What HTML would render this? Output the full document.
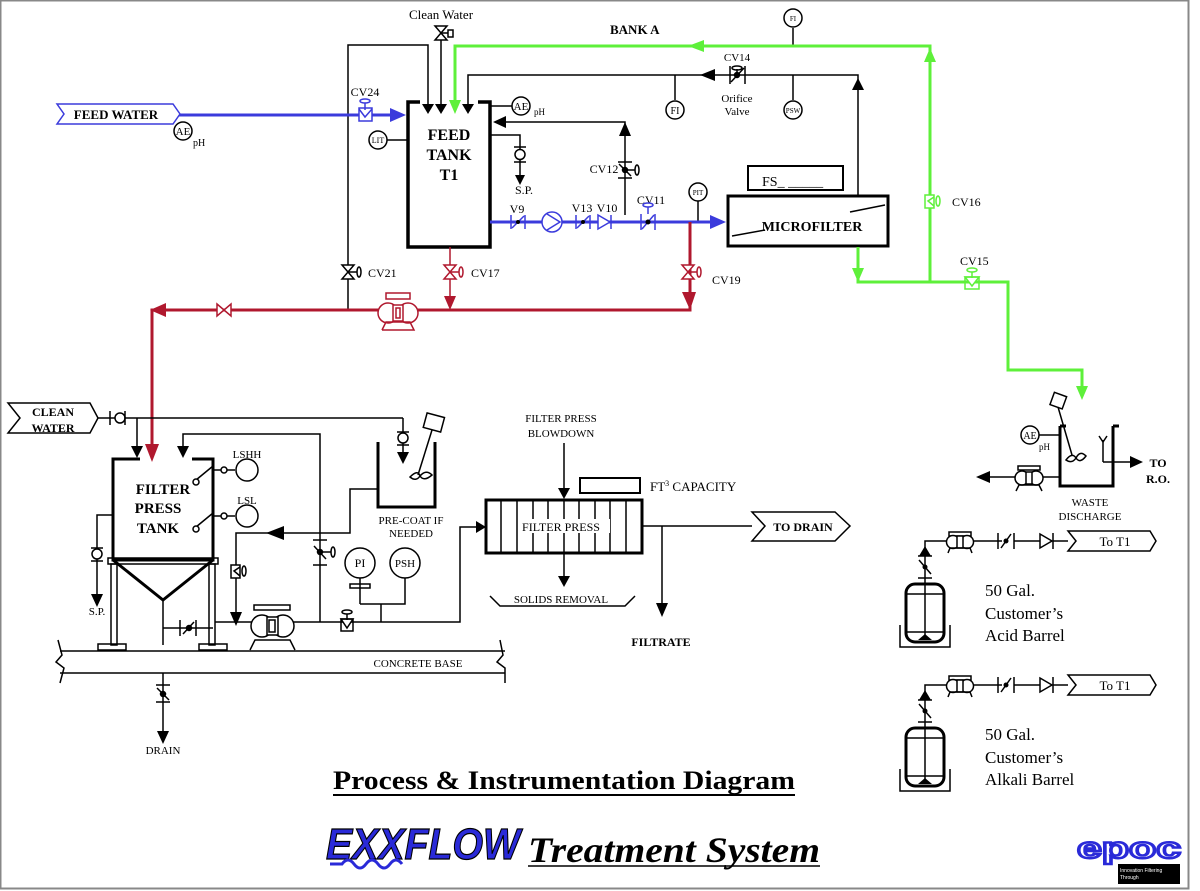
<!DOCTYPE html>
<html><head><meta charset="utf-8"><style>
html,body{margin:0;padding:0;background:#fff;}
svg{display:block;}
text{font-family:"Liberation Serif",serif;fill:#000;}
</style></head><body>
<svg width="1200" height="891" viewBox="0 0 1200 891" xmlns="http://www.w3.org/2000/svg">
<rect x="0.5" y="0.5" width="1188" height="888" fill="#fff" stroke="#888" stroke-width="2"/>

<!-- ===== TOP SECTION ===== -->
<text x="441" y="19" font-size="13" text-anchor="middle">Clean Water</text>
<g stroke="#000" stroke-width="1.5" fill="none">
 <line x1="441" y1="28" x2="441" y2="104"/>
 <polygon points="435,26 447,26 435,40 447,40" fill="#fff"/>
 <rect x="448" y="30" width="5" height="7"/><line x1="441" y1="33" x2="448" y2="33"/>
 <polyline points="348,310 348,45 428,45 428,104"/>
 <polyline points="468,104 468,75 858,75 858,196"/>
 <line x1="675" y1="75" x2="675" y2="100"/>
 <line x1="793" y1="75" x2="793" y2="100"/>
 <line x1="793" y1="28" x2="793" y2="46"/>
 <circle cx="675" cy="110" r="9" fill="#fff"/>
 <circle cx="793" cy="110" r="9" fill="#fff"/>
 <circle cx="793" cy="18" r="9" fill="#fff"/>
 <!-- CV14 -->
 <line x1="730" y1="66" x2="730" y2="84"/><line x1="745" y1="66" x2="745" y2="84"/>
 <line x1="731" y1="82" x2="744" y2="68"/><circle cx="737" cy="75" r="2.5" fill="#000"/>
 <line x1="737" y1="69" x2="737" y2="73"/><ellipse cx="737" cy="68" rx="5" ry="2"/>
 <!-- return line to tank -->
 <polyline points="495,122 625,122 625,215"/>
 <line x1="618" y1="162" x2="632" y2="162"/><line x1="618" y1="178" x2="632" y2="178"/>
 <line x1="619" y1="164" x2="631" y2="176"/><circle cx="625" cy="170" r="2.5" fill="#000"/>
 <ellipse cx="637" cy="170" rx="2" ry="5"/><line x1="627" y1="170" x2="635" y2="170"/>
 <!-- S.P. -->
 <polyline points="490,135 520,135 520,178"/>
 <line x1="514" y1="147" x2="526" y2="147"/><line x1="514" y1="162" x2="526" y2="162"/>
 <circle cx="520" cy="154.5" r="5" fill="#fff"/>
 <!-- AE / LIT -->
 <line x1="490" y1="106" x2="512" y2="106"/><circle cx="521" cy="106" r="9" fill="#fff"/>
 <line x1="387" y1="140" x2="408" y2="140"/><circle cx="378" cy="140" r="9" fill="#fff"/>
 <!-- PIT -->
 <line x1="698" y1="201" x2="698" y2="222"/><circle cx="698" cy="192" r="9" fill="#fff"/>
 <!-- CV21 -->
 <polygon points="342,265 354,265 342,279 354,279" fill="#fff"/>
 <ellipse cx="359" cy="272" rx="2" ry="5"/><line x1="348" y1="272" x2="357" y2="272"/>
 <!-- microfilter -->
 <rect x="728" y="196" width="160" height="50" stroke-width="3"/>
 <line x1="732" y1="236" x2="765" y2="230"/><line x1="850" y1="212" x2="885" y2="205"/>
 <rect x="748" y="166" width="95" height="24" stroke-width="2"/>
 <!-- feed tank -->
 <polyline points="420,102 408,102 408,247 490,247 490,102 478,102" stroke-width="3.5"/>
</g>
<g fill="#000">
 <polygon points="422,104 434,104 428,114"/><polygon points="435,104 447,104 441,114"/>
 <polygon points="462,104 474,104 468,114"/>
 <polygon points="852,90 864,90 858,78"/>
 <polygon points="700,75 715,69 715,81"/>
 <polygon points="493,122 506,116 506,128"/>
 <polygon points="619,136 631,136 625,122"/>
 <polygon points="515,175 525,175 520,185"/>
</g>
<text x="610" y="34" font-size="13" font-weight="bold">BANK A</text>
<text x="793" y="21" font-size="7" text-anchor="middle">FI</text>
<text x="675" y="114" font-size="10" text-anchor="middle">FI</text>
<text x="793" y="113" font-size="7" text-anchor="middle">PSW</text>
<text x="737" y="61" font-size="11" text-anchor="middle">CV14</text>
<text x="737" y="102" font-size="11" text-anchor="middle">Orifice</text>
<text x="737" y="115" font-size="11" text-anchor="middle">Valve</text>
<text x="521" y="110" font-size="11" text-anchor="middle">AE</text>
<text x="534" y="115" font-size="9">pH</text>
<text x="378" y="143" font-size="8" text-anchor="middle">LIT</text>
<text x="698" y="195" font-size="7" text-anchor="middle">PIT</text>
<text x="524" y="194" font-size="12" text-anchor="middle">S.P.</text>
<text x="604" y="173" font-size="12" text-anchor="middle">CV12</text>
<text x="449" y="140" font-size="16" font-weight="bold" text-anchor="middle">FEED</text>
<text x="449" y="160" font-size="16" font-weight="bold" text-anchor="middle">TANK</text>
<text x="449" y="180" font-size="16" font-weight="bold" text-anchor="middle">T1</text>
<text x="812" y="231" font-size="14" font-weight="bold" text-anchor="middle">MICROFILTER</text>
<text x="762" y="186" font-size="14">FS_ _____</text>
<text x="368" y="277" font-size="12">CV21</text>
<text x="471" y="277" font-size="12">CV17</text>
<text x="712" y="284" font-size="12">CV19</text>
<text x="365" y="96" font-size="12" text-anchor="middle">CV24</text>
<text x="517" y="213" font-size="12" text-anchor="middle">V9</text>
<text x="582" y="212" font-size="12" text-anchor="middle">V13</text>
<text x="607" y="212" font-size="12" text-anchor="middle">V10</text>
<text x="651" y="204" font-size="12" text-anchor="middle">CV11</text>

<!-- green lines -->
<g stroke="#5ef03a" stroke-width="3" fill="none">
 <polyline points="455,104 455,46 930,46 930,282"/>
 <polyline points="858,247 858,282 1008,282 1008,370 1082,370 1082,392"/>
</g>
<g fill="#5ef03a">
 <polygon points="449,100 461,100 455,114"/>
 <polygon points="688,46 704,40 704,52"/>
 <polygon points="924,62 936,62 930,48"/>
 <polygon points="852,268 864,268 858,282"/>
 <polygon points="1076,386 1088,386 1082,400"/>
</g>
<g stroke="#5ef03a" stroke-width="1.5" fill="#fff">
 <rect x="925" y="195" width="9" height="13"/><polyline points="934,197 928,201 934,206" fill="none"/>
 <ellipse cx="938" cy="201" rx="2" ry="5"/>
 <polygon points="965,277 979,277 972,286" /><rect x="965" y="277" width="14" height="12" fill="none"/>
 <ellipse cx="972" cy="270" rx="5" ry="2"/><line x1="972" y1="272" x2="972" y2="278"/>
</g>
<text x="952" y="206" font-size="12">CV16</text>
<text x="960" y="265" font-size="12">CV15</text>

<!-- blue -->
<g stroke="#3b3bdc" stroke-width="3" fill="none">
 <line x1="175" y1="115" x2="395" y2="115"/>
 <line x1="490" y1="222" x2="712" y2="222"/>
</g>
<g fill="#3b3bdc">
 <polygon points="390,108 390,122 406,115"/>
 <polygon points="710,215 710,229 726,222"/>
</g>
<g stroke="#3b3bdc" stroke-width="1.5" fill="#fff">
 <polygon points="57,104 173,104 180,114 173,124 57,124 64,114"/>
 <rect x="359" y="108" width="13" height="13"/><polyline points="359,109 365,117 372,109" fill="none"/>
 <line x1="365" y1="100" x2="365" y2="110"/><ellipse cx="365" cy="101" rx="5" ry="2"/>
 <line x1="511" y1="215" x2="511" y2="229"/><line x1="525" y1="215" x2="525" y2="229"/><line x1="512" y1="228" x2="524" y2="216"/>
 <circle cx="552" cy="222" r="10"/><polyline points="547,214 560,222 547,230" fill="none"/>
 <line x1="576" y1="215" x2="576" y2="229"/><line x1="590" y1="215" x2="590" y2="229"/><line x1="577" y1="228" x2="589" y2="216"/>
 <polygon points="598,215 610,222 598,229" fill="#fff"/><line x1="611" y1="215" x2="611" y2="229"/>
 <line x1="641" y1="214" x2="641" y2="230"/><line x1="655" y1="214" x2="655" y2="230"/><line x1="642" y1="229" x2="654" y2="215"/>
 <line x1="648" y1="205" x2="648" y2="214"/><ellipse cx="648" cy="205" rx="5" ry="2"/>
</g>
<g fill="#000"><circle cx="518" cy="222" r="2"/><circle cx="583" cy="222" r="2"/><circle cx="648" cy="222" r="2.5"/></g>
<text x="116" y="119" font-size="13" font-weight="bold" text-anchor="middle">FEED WATER</text>
<g stroke="#000" stroke-width="1.5" fill="#fff"><circle cx="183" cy="131" r="9"/></g>
<text x="183" y="135" font-size="11" text-anchor="middle">AE</text>
<text x="193" y="146" font-size="10">pH</text>

<!-- red -->
<g stroke="#b0182e" stroke-width="3" fill="none">
 <polyline points="690,222 690,310 152,310 152,450"/>
</g>
<g stroke="#b0182e" stroke-width="1.5" fill="none">
 <line x1="450" y1="247" x2="450" y2="300"/>
 <polygon points="444,265 456,265 444,279 456,279" fill="#fff"/>
 <ellipse cx="461" cy="272" rx="2" ry="5"/><line x1="450" y1="272" x2="459" y2="272"/>
 <polygon points="682,265 694,265 682,279 694,279" fill="#fff"/>
 <ellipse cx="699" cy="272" rx="2" ry="5"/><line x1="690" y1="272" x2="697" y2="272"/>
 <polygon points="217,304 231,316 231,304 217,316" fill="#fff"/>
 <rect x="386" y="293" width="24" height="6" fill="#fff"/>
 <circle cx="388" cy="313" r="10" fill="#fff"/><circle cx="408" cy="313" r="10" fill="#fff"/>
 <rect x="393" y="305" width="10" height="16" fill="#fff"/><rect x="396" y="308" width="4" height="10"/>
 <polyline points="382,330 386,322 410,322 414,330 382,330"/>
</g>
<g fill="#b0182e">
 <polygon points="444,296 456,296 450,310"/>
 <polygon points="682,292 696,292 690,310"/>
 <polygon points="150,310 166,303 166,317"/>
 <polygon points="145,444 159,444 152,462"/>
</g>

<!-- ===== LOWER LEFT ===== -->
<g stroke="#000" stroke-width="1.5" fill="none">
 <polygon points="8,403 90,403 98,418 90,433 8,433 20,418" fill="#fff"/>
 <line x1="98" y1="418" x2="403" y2="418"/>
 <line x1="110" y1="411" x2="110" y2="425"/><circle cx="120" cy="418" r="5" fill="#fff"/><line x1="125" y1="411" x2="125" y2="425"/>
 <line x1="137" y1="418" x2="137" y2="448"/>
 <line x1="403" y1="418" x2="403" y2="455"/>
 <line x1="397" y1="432" x2="409" y2="432"/><line x1="397" y1="445" x2="409" y2="445"/><circle cx="403" cy="438" r="5" fill="#fff"/>
 <polyline points="183,448 183,434 320,434 320,622"/>
 <polyline points="140,459 113,459 113,560 213,560 213,459 192,459" stroke-width="3"/>
 <polyline points="113,560 163,600 213,560" stroke-width="3"/>
 <rect x="108" y="558" width="110" height="6"/>
 <rect x="111" y="564" width="6" height="81"/><rect x="209" y="564" width="6" height="81"/>
 <rect x="98" y="644" width="28" height="6"/><rect x="199" y="644" width="28" height="6"/>
 <line x1="163" y1="600" x2="163" y2="645"/>
 <polyline points="163,628 213,628"/>
 <line x1="180" y1="620" x2="180" y2="636"/><line x1="196" y1="620" x2="196" y2="636"/><line x1="183" y1="634" x2="194" y2="622"/><circle cx="189" cy="628" r="2.5" fill="#000"/>
 <line x1="196" y1="480" x2="213" y2="466"/><circle cx="196" cy="482" r="3" fill="#fff"/><line x1="213" y1="470" x2="235" y2="470"/><circle cx="224" cy="470" r="3" fill="#fff"/><circle cx="247" cy="470" r="11" fill="#fff"/>
 <line x1="196" y1="527" x2="213" y2="513"/><circle cx="196" cy="529" r="3" fill="#fff"/><line x1="213" y1="516" x2="235" y2="516"/><circle cx="224" cy="516" r="3" fill="#fff"/><circle cx="247" cy="516" r="11" fill="#fff"/>
 <polyline points="113,515 97,515 97,597"/>
 <line x1="91" y1="548" x2="103" y2="548"/><line x1="91" y1="561" x2="103" y2="561"/><circle cx="97" cy="554" r="5" fill="#fff"/>
 <polyline points="236,616 236,533 350,533 350,489 378,489"/>
 <rect x="231" y="565" width="9" height="13" fill="#fff"/><polyline points="240,567 234,571 240,576"/><ellipse cx="244" cy="571" rx="2" ry="5"/>
 <polyline points="378,442 378,507 435,507 435,442" stroke-width="3"/>
 <rect x="425" y="415" width="18" height="15" transform="rotate(15 434 422)" fill="#fff"/>
 <line x1="432" y1="430" x2="418" y2="475"/><path d="M410,477 q8,-8 10,-1 q4,6 12,-1 q-6,-6 -12,1 q-4,6 -10,1z"/>
 <line x1="313" y1="540" x2="327" y2="540"/><line x1="313" y1="565" x2="327" y2="565"/><line x1="314" y1="546" x2="326" y2="559"/><circle cx="320" cy="552" r="2.5" fill="#000"/><ellipse cx="333" cy="552" rx="2" ry="5"/><line x1="322" y1="552" x2="331" y2="552"/>
 <polyline points="215,622 252,622"/><polyline points="292,622 460,622 460,527 478,527"/>
 <rect x="254" y="605" width="36" height="5"/><circle cx="262" cy="626" r="11" fill="#fff"/><circle cx="283" cy="626" r="11" fill="#fff"/><rect x="267" y="617" width="11" height="18" fill="#fff"/><rect x="269" y="620" width="6" height="12"/>
 <polyline points="250,650 255,640 290,640 295,650"/>
 <polygon points="341,619 353,619 347,628" fill="#fff"/><rect x="341" y="619" width="12" height="12"/><ellipse cx="347" cy="612" rx="5" ry="2"/><line x1="347" y1="614" x2="347" y2="620"/>
 <circle cx="360" cy="563" r="15" fill="#fff"/><circle cx="405" cy="563" r="15" fill="#fff"/>
 <line x1="360" y1="578" x2="360" y2="604"/><rect x="350" y="584" width="20" height="4"/>
 <polyline points="360,604 405,604 405,578"/><line x1="381" y1="604" x2="381" y2="622"/>
 <line x1="60" y1="651" x2="505" y2="651"/><line x1="60" y1="673" x2="505" y2="673"/>
 <polyline points="58,640 62,655 56,662 64,668 60,683"/>
 <polyline points="500,640 503,655 497,662 505,668 505,683"/>
 <line x1="163" y1="673" x2="163" y2="735"/>
 <line x1="156" y1="685" x2="170" y2="685"/><line x1="156" y1="702" x2="170" y2="702"/><line x1="157" y1="688" x2="169" y2="700"/><circle cx="163" cy="694" r="2.5" fill="#000"/>
</g>
<g fill="#000">
 <polygon points="131,446 143,446 137,458"/>
 <polygon points="177,446 189,446 183,458"/>
 <polygon points="397,452 409,452 403,464"/>
 <polygon points="91,594 103,594 97,607"/>
 <polygon points="230,612 242,612 236,626"/>
 <polygon points="266,533 284,526 284,540"/>
 <polygon points="476,521 476,533 486,527"/>
 <polygon points="157,731 169,731 163,744"/>
</g>
<text x="53" y="416" font-size="12" font-weight="bold" text-anchor="middle">CLEAN</text>
<text x="53" y="432" font-size="12" font-weight="bold" text-anchor="middle">WATER</text>
<text x="163" y="494" font-size="15" font-weight="bold" text-anchor="middle">FILTER</text>
<text x="158" y="513" font-size="15" font-weight="bold" text-anchor="middle">PRESS</text>
<text x="158" y="533" font-size="15" font-weight="bold" text-anchor="middle">TANK</text>
<text x="247" y="458" font-size="11" text-anchor="middle">LSHH</text>
<text x="247" y="504" font-size="11" text-anchor="middle">LSL</text>
<text x="97" y="615" font-size="11" text-anchor="middle">S.P.</text>
<text x="411" y="524" font-size="11" text-anchor="middle">PRE-COAT IF</text>
<text x="411" y="537" font-size="11" text-anchor="middle">NEEDED</text>
<text x="360" y="567" font-size="12" text-anchor="middle">PI</text>
<text x="405" y="567" font-size="11" text-anchor="middle">PSH</text>
<text x="418" y="667" font-size="11" text-anchor="middle">CONCRETE BASE</text>
<text x="163" y="754" font-size="11" text-anchor="middle">DRAIN</text>

<!-- ===== FILTER PRESS ===== -->
<g stroke="#000" stroke-width="1.5" fill="none">
 <rect x="486" y="500" width="156" height="53" stroke-width="3"/>
 <line x1="501" y1="500" x2="501" y2="553"/><line x1="517" y1="500" x2="517" y2="553"/><line x1="533" y1="500" x2="533" y2="553"/><line x1="548" y1="500" x2="548" y2="553"/><line x1="564" y1="500" x2="564" y2="553"/><line x1="579" y1="500" x2="579" y2="553"/><line x1="595" y1="500" x2="595" y2="553"/><line x1="610" y1="500" x2="610" y2="553"/><line x1="626" y1="500" x2="626" y2="553"/>
 <rect x="580" y="478" width="60" height="15" stroke-width="2"/>
 <line x1="564" y1="443" x2="564" y2="490"/>
 <line x1="564" y1="553" x2="564" y2="578"/>
 <polyline points="490,596 500,606 625,606 635,596"/>
 <line x1="642" y1="526" x2="752" y2="526"/>
 <line x1="662" y1="526" x2="662" y2="605"/>
 <polygon points="752,512 835,512 850,526 835,541 752,541 765,526" fill="#fff"/>
</g>
<g fill="#000">
 <polygon points="558,488 570,488 564,499"/>
 <polygon points="558,576 570,576 564,587"/>
 <polygon points="656,603 668,603 662,617"/>
</g>
<rect x="518" y="519" width="92" height="14" fill="#fff"/>
<text x="561" y="531" font-size="12" text-anchor="middle">FILTER PRESS</text>
<text x="561" y="422" font-size="11" text-anchor="middle">FILTER PRESS</text>
<text x="561" y="437" font-size="11" text-anchor="middle">BLOWDOWN</text>
<text x="650" y="491" font-size="13">FT<tspan font-size="8" dy="-5">3</tspan><tspan dy="5"> CAPACITY</tspan></text>
<text x="561" y="603" font-size="11" text-anchor="middle">SOLIDS REMOVAL</text>
<text x="661" y="646" font-size="12" font-weight="bold" text-anchor="middle">FILTRATE</text>
<text x="803" y="531" font-size="12" font-weight="bold" text-anchor="middle">TO DRAIN</text>

<!-- ===== RIGHT ===== -->
<g stroke="#000" stroke-width="1.5" fill="none">
 <polyline points="1060,426 1060,486 1113,486 1113,426" stroke-width="3"/>
 <polyline points="1060,426 1066,426" stroke-width="3"/><polyline points="1113,426 1119,426" stroke-width="3"/>
 <rect x="1052" y="394" width="13" height="13" transform="rotate(20 1058 400)" fill="#fff"/>
 <line x1="1058" y1="407" x2="1072" y2="455"/><path d="M1066,460 q6,-8 10,-2 q4,6 10,-2 q-6,-6 -10,2 q-4,6 -10,2z"/>
 <line x1="1039" y1="435" x2="1060" y2="435"/><circle cx="1030" cy="435" r="9" fill="#fff"/>
 <line x1="1060" y1="477" x2="1040" y2="477"/><line x1="1016" y1="477" x2="982" y2="477"/>
 <rect x="1018" y="466" width="22" height="4"/><circle cx="1022" cy="478" r="7" fill="#fff"/><circle cx="1036" cy="478" r="7" fill="#fff"/><rect x="1026" y="472" width="6" height="12" fill="#fff"/>
 <polyline points="1016,491 1019,485 1039,485 1042,491"/>
 <polyline points="1103,462 1103,440"/><polyline points="1099,436 1103,442 1107,436"/>
 <line x1="1103" y1="462" x2="1132" y2="462"/>
</g>
<g fill="#000">
 <polygon points="976,477 990,471 990,483"/>
 <polygon points="1130,456 1130,468 1143,462"/>
</g>
<text x="1030" y="439" font-size="10" text-anchor="middle">AE</text>
<text x="1039" y="450" font-size="9">pH</text>
<text x="1158" y="467" font-size="12" font-weight="bold" text-anchor="middle">TO</text>
<text x="1158" y="483" font-size="12" font-weight="bold" text-anchor="middle">R.O.</text>
<text x="1090" y="506" font-size="11" text-anchor="middle">WASTE</text>
<text x="1090" y="520" font-size="11" text-anchor="middle">DISCHARGE</text>

<!-- acid / alkali -->
<g stroke="#000" stroke-width="1.5" fill="none">
 <polyline points="925,596 925,541 950,541"/>
 <line x1="966" y1="541" x2="1002" y2="541"/><line x1="1014" y1="541" x2="1040" y2="541"/><line x1="1053" y1="541" x2="1068" y2="541"/>
 <rect x="949" y="532" width="22" height="4"/><circle cx="953" cy="542" r="6.5" fill="#fff"/><circle cx="967" cy="542" r="6.5" fill="#fff"/><rect x="957" y="536" width="6" height="12" fill="#fff"/>
 <polyline points="948,553 950,548 970,548 972,553"/>
 <line x1="998" y1="533" x2="998" y2="549"/><line x1="1014" y1="533" x2="1014" y2="549"/><line x1="1001" y1="548" x2="1011" y2="534"/>
 <polygon points="1040,534 1052,541 1040,548" fill="#fff"/><line x1="1053" y1="533" x2="1053" y2="549"/>
 <polygon points="1068,531 1150,531 1156,541 1150,551 1068,551 1076,541" fill="#fff"/>
 <line x1="918" y1="556" x2="932" y2="556"/><line x1="918" y1="578" x2="932" y2="578"/><line x1="919" y1="560" x2="931" y2="574"/>
 <rect x="906" y="584" width="38" height="58" rx="9" stroke-width="3" fill="#fff"/>
 <line x1="925" y1="584" x2="925" y2="635"/><line x1="907" y1="594" x2="943" y2="594"/><line x1="907" y1="632" x2="943" y2="632"/>
 <polyline points="900,625 900,647 950,647 950,625"/>
</g>
<g fill="#000"><polygon points="919,556 931,556 925,546"/><circle cx="925" cy="567" r="2.5"/><circle cx="1006" cy="541" r="2.5"/><polygon points="918,640 932,640 925,634"/></g>
<g transform="translate(0,144)">
<g stroke="#000" stroke-width="1.5" fill="none">
 <polyline points="925,596 925,541 950,541"/>
 <line x1="966" y1="541" x2="1002" y2="541"/><line x1="1014" y1="541" x2="1040" y2="541"/><line x1="1053" y1="541" x2="1068" y2="541"/>
 <rect x="949" y="532" width="22" height="4"/><circle cx="953" cy="542" r="6.5" fill="#fff"/><circle cx="967" cy="542" r="6.5" fill="#fff"/><rect x="957" y="536" width="6" height="12" fill="#fff"/>
 <polyline points="948,553 950,548 970,548 972,553"/>
 <line x1="998" y1="533" x2="998" y2="549"/><line x1="1014" y1="533" x2="1014" y2="549"/><line x1="1001" y1="548" x2="1011" y2="534"/>
 <polygon points="1040,534 1052,541 1040,548" fill="#fff"/><line x1="1053" y1="533" x2="1053" y2="549"/>
 <polygon points="1068,531 1150,531 1156,541 1150,551 1068,551 1076,541" fill="#fff"/>
 <line x1="918" y1="556" x2="932" y2="556"/><line x1="918" y1="578" x2="932" y2="578"/><line x1="919" y1="560" x2="931" y2="574"/>
 <rect x="906" y="584" width="38" height="58" rx="9" stroke-width="3" fill="#fff"/>
 <line x1="925" y1="584" x2="925" y2="635"/><line x1="907" y1="594" x2="943" y2="594"/><line x1="907" y1="632" x2="943" y2="632"/>
 <polyline points="900,625 900,647 950,647 950,625"/>
</g>
<g fill="#000"><polygon points="919,556 931,556 925,546"/><circle cx="925" cy="567" r="2.5"/><circle cx="1006" cy="541" r="2.5"/><polygon points="918,640 932,640 925,634"/></g>
</g>
<text x="1115" y="546" font-size="13" text-anchor="middle">To T1</text>
<text x="1115" y="690" font-size="13" text-anchor="middle">To T1</text>
<text x="985" y="596" font-size="17">50 Gal.</text>
<text x="985" y="619" font-size="17">Customer’s</text>
<text x="985" y="641" font-size="17">Acid Barrel</text>
<text x="985" y="740" font-size="17">50 Gal.</text>
<text x="985" y="763" font-size="17">Customer’s</text>
<text x="985" y="785" font-size="17">Alkali Barrel</text>

<!-- titles -->
<text x="333" y="789" font-size="26" font-weight="bold" textLength="462" lengthAdjust="spacingAndGlyphs">Process &amp; Instrumentation Diagram</text>
<line x1="333" y1="795" x2="795" y2="795" stroke="#000" stroke-width="2"/>
<text x="326" y="859" font-size="44" font-weight="bold" font-style="italic" stroke="#000" stroke-width="1.2" textLength="194" lengthAdjust="spacingAndGlyphs" style="fill:#2a2ad8;font-family:'Liberation Sans',sans-serif">EXXFLOW</text>
<path d="M330,864 l12,0 q6,-8 12,0 t12,0 t12,0 t12,0 t12,0" stroke="#2a2ad8" stroke-width="3" fill="none"/>
<text x="528" y="862" font-size="36" font-weight="bold" font-style="italic" textLength="292" lengthAdjust="spacingAndGlyphs">Treatment System</text>
<line x1="528" y1="866" x2="820" y2="866" stroke="#000" stroke-width="1.5"/>
<text x="1077" y="858" font-size="30" font-weight="bold" stroke="#2a2ad8" stroke-width="2.5" textLength="104" lengthAdjust="spacingAndGlyphs" style="fill:#fff;font-family:'Liberation Sans',sans-serif">epoc</text>
<rect x="1118" y="864" width="62" height="20" fill="#000"/>
<text x="1120" y="872" font-size="5" style="fill:#fff;font-family:'Liberation Sans',sans-serif">Innovation Filtering</text>
<text x="1120" y="879" font-size="5" style="fill:#fff;font-family:'Liberation Sans',sans-serif">Through</text>
</svg>
</body></html>
